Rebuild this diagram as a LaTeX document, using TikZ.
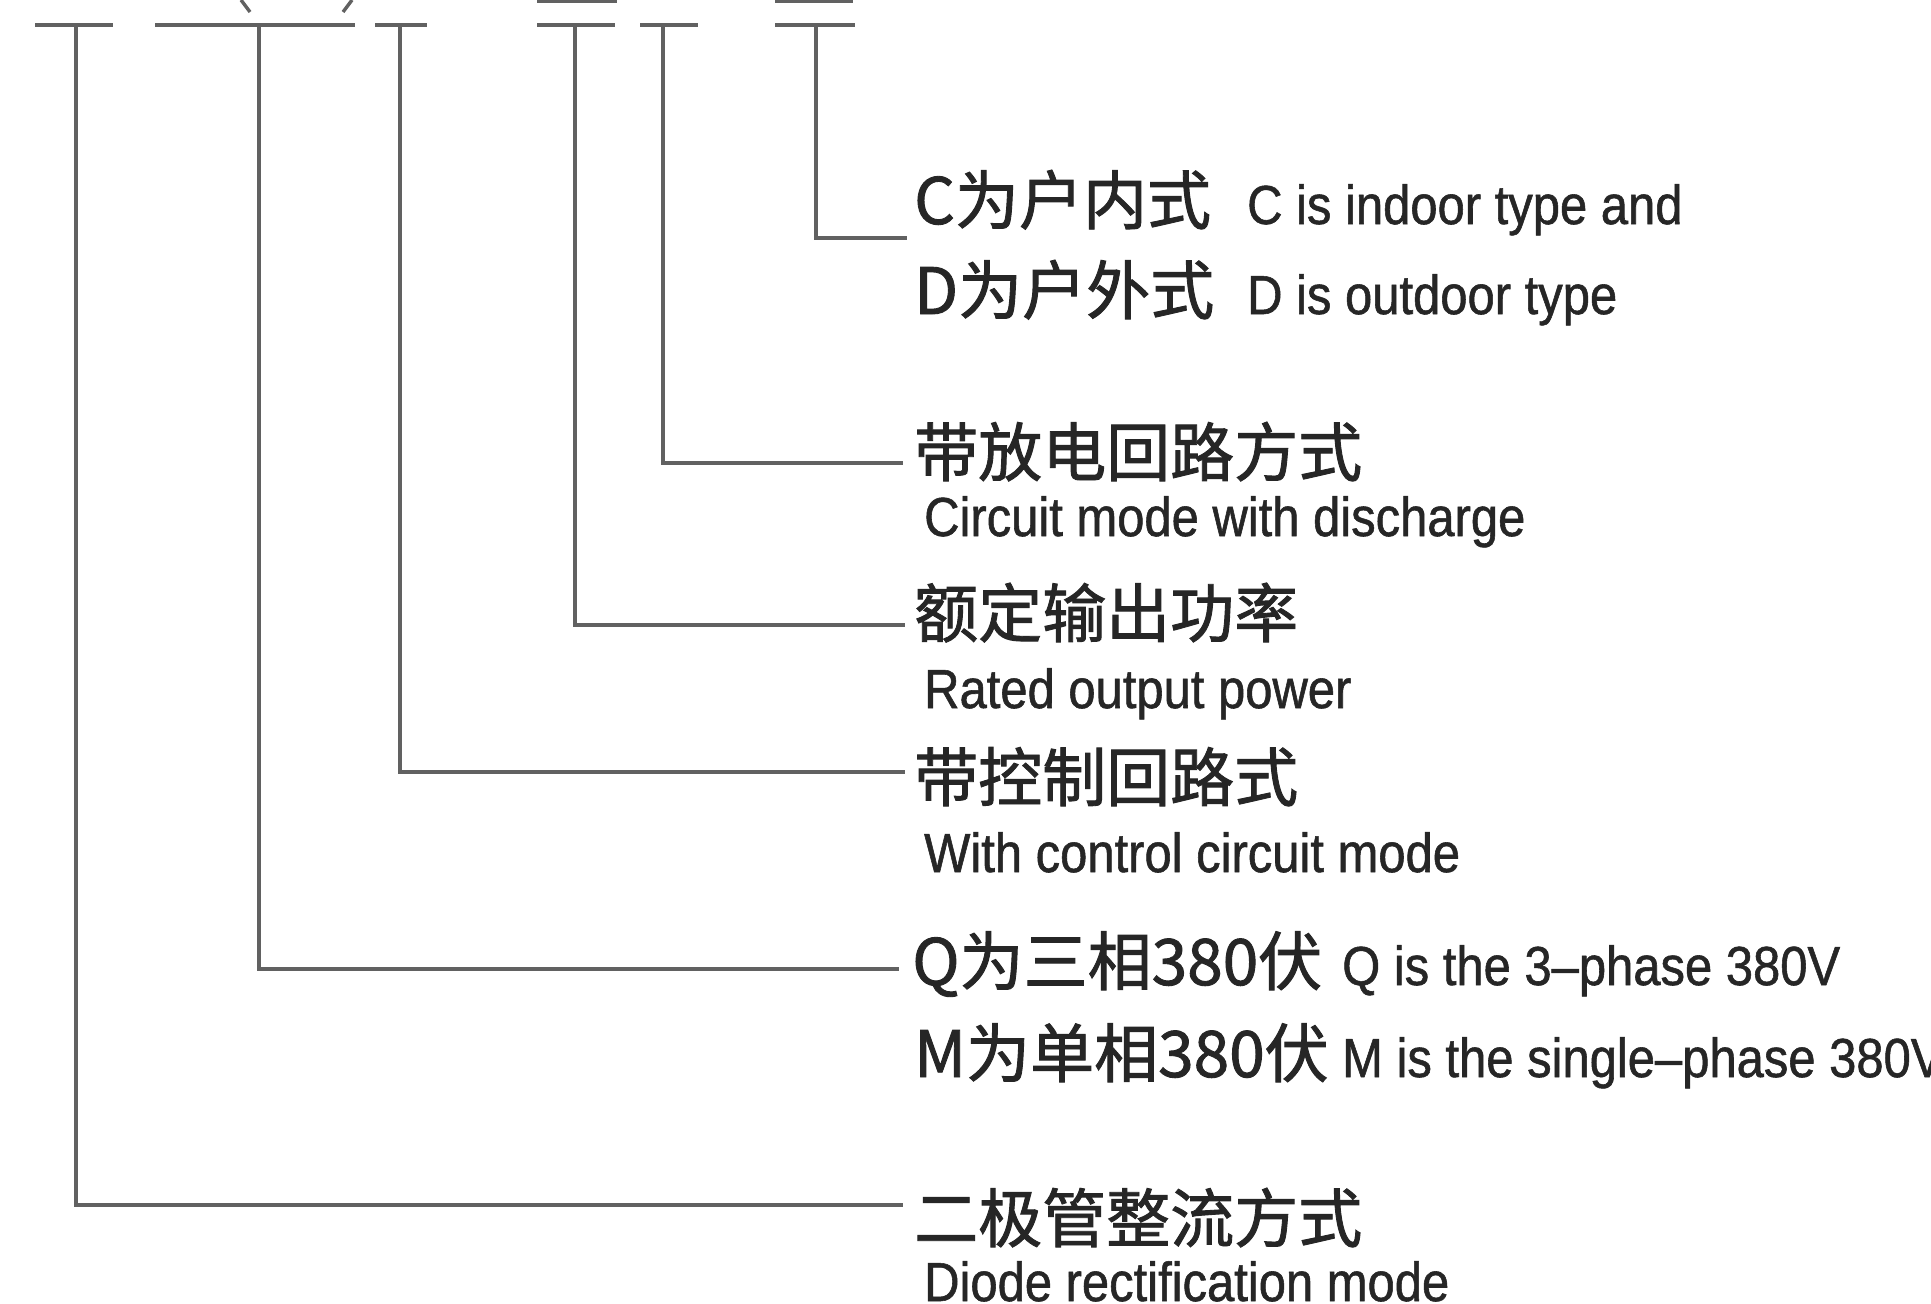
\documentclass[tikz,border=0pt]{standalone}
\usepackage{fontspec}
\newfontfamily\cjk[FakeBold=1.4]{Noto Sans CJK SC}
\newfontfamily\latn[FakeStretch=0.89,FakeBold=1]{Liberation Sans}
\usetikzlibrary{positioning}
\tikzset{
  lead/.style={draw=black!62,line width=3.4pt},
  cn/.style={anchor=base west,inner sep=0pt,text=black!85,
             font=\cjk\fontsize{64}{72}\selectfont},
  en/.style={anchor=base west,inner sep=0pt,text=black!85,
             font=\latn\fontsize{55}{62}\selectfont},
}

\begin{document}
\begin{tikzpicture}[x=1pt,y=-1pt]
\clip (0,0) rectangle (1931,1304);
\fill[white] (0,0) rectangle (1931,1304);
% cut-off model code at the top
\draw[lead] (241,0) -- (250,12);
\draw[lead] (352,0) -- (343,12);
\draw[lead] (537,1) -- (617,1);
\draw[lead] (775,1) -- (853,1);
% tick bars under the code
\draw[lead] (35,25) -- (113,25);
\draw[lead] (155,25) -- (355,25);
\draw[lead] (375,25) -- (427,25);
\draw[lead] (537,25) -- (615,25);
\draw[lead] (640,25) -- (698,25);
\draw[lead] (775,25) -- (855,25);
\coordinate (k1) at (76,25);
\coordinate (k2) at (259,25);
\coordinate (k3) at (400,25);
\coordinate (k4) at (575,25);
\coordinate (k5) at (663,25);
\coordinate (k6) at (816,25);
\coordinate (e1) at (903,1205);
\coordinate (e2) at (899,969);
\coordinate (e3) at (905,772);
\coordinate (e4) at (905,625);
\coordinate (e5) at (903,463);
\coordinate (e6) at (907,238);
% labels
\node[cn] (zhC) at (914,224) {C为户内式};
\node[en] (enC) at (1247,224) {C is indoor type and};
\node[cn] (zhD) at (914,314) {D为户外式};
\node[en] (enD) at (1247,314) {D is outdoor type};
\node[cn] (zhDis) at (914,476) {带放电回路方式};
\node[en] (enDis) at (924,536) {Circuit mode with discharge};
\node[cn] (zhPow) at (914,637) {额定输出功率};
\node[en] (enPow) at (924,708) {Rated output power};
\node[cn] (zhCtl) at (914,801) {带控制回路式};
\node[en] (enCtl) at (924,872) {With control circuit mode};
\node[cn] (zhQ) at (912,985) {Q为三相380伏};
\node[en] (enQ) at (1342,985) {Q is the 3–phase 380V};
\node[cn] (zhM) at (914,1077) {M为单相380伏};
\node[en] (enM) at (1342,1077) {M is the single–phase 380V};
\node[cn] (zhDio) at (914,1242) {二极管整流方式};
\node[en] (enDio) at (924,1301) {Diode rectification mode};
% leaders
\draw[lead] (k1) |- (e1);
\draw[lead] (k2) |- (e2);
\draw[lead] (k3) |- (e3);
\draw[lead] (k4) |- (e4);
\draw[lead] (k5) |- (e5);
\draw[lead] (k6) |- (e6);
\end{tikzpicture}
\end{document}
